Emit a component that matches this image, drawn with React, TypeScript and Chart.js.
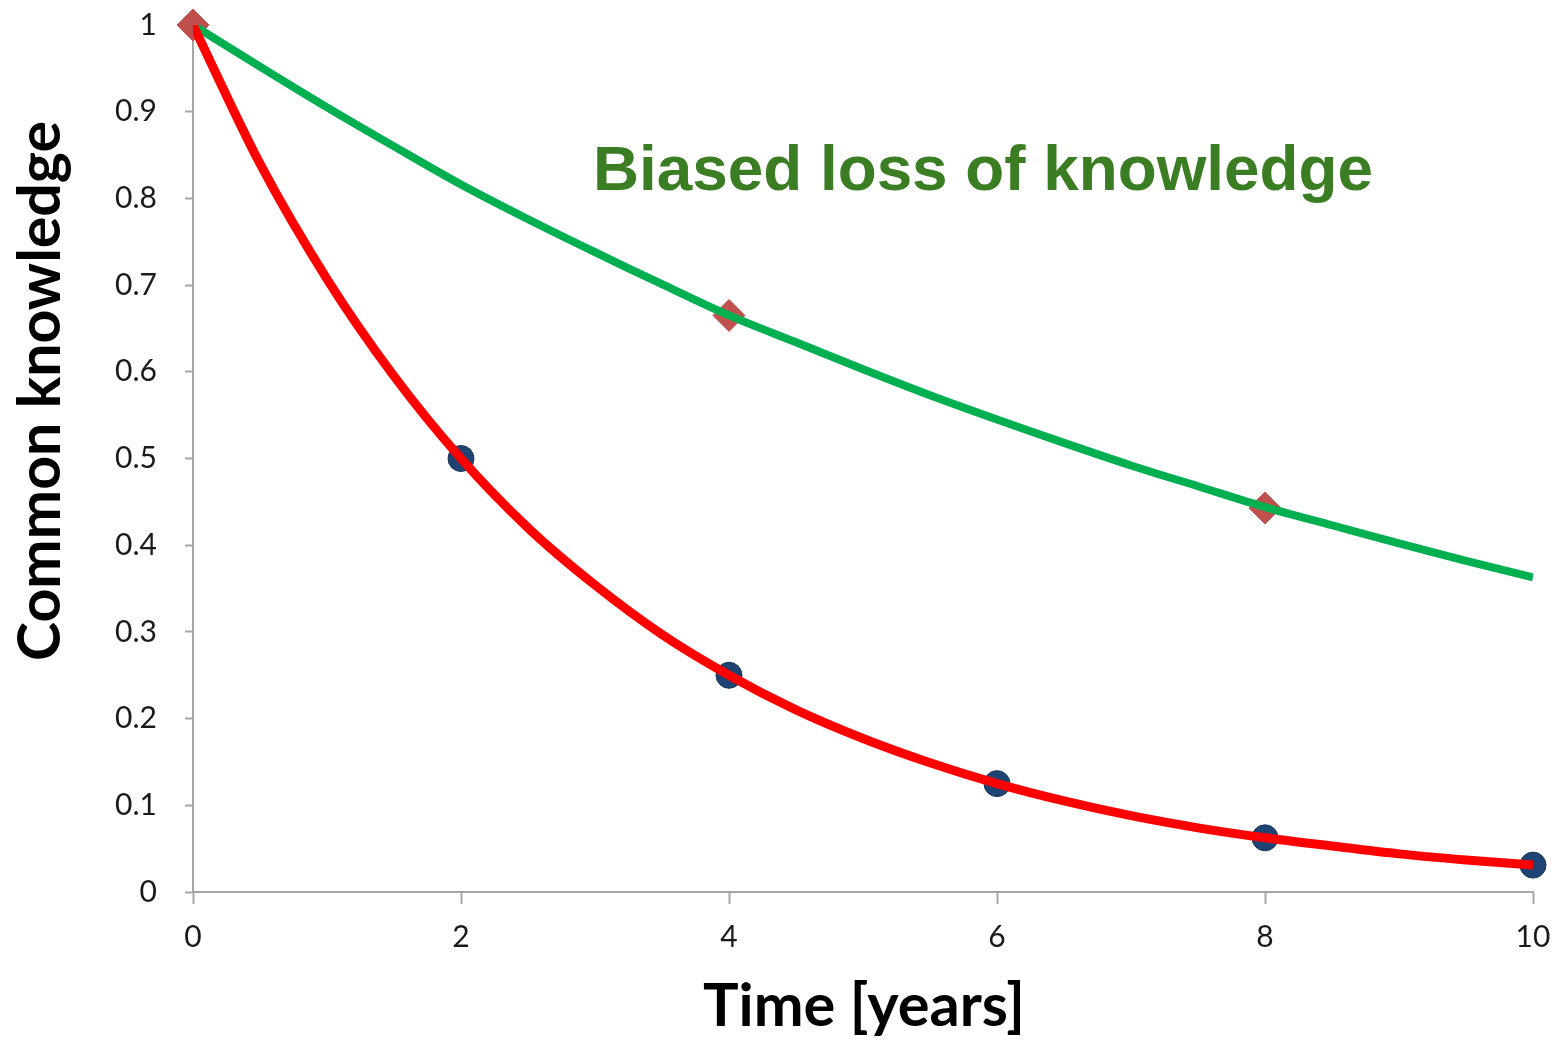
import React, { useEffect, useRef } from 'react';
import { Chart, registerables } from 'chart.js';

Chart.register(...registerables);

// ---- data ----
const timeYears = [0, 0.5, 1, 1.5, 2, 2.5, 3, 3.5, 4, 4.5, 5, 5.5, 6, 6.5, 7, 7.5, 8, 8.5, 9, 9.5, 10];
const redLine = [1, 0.84, 0.707, 0.595, 0.5, 0.42, 0.354, 0.297, 0.25, 0.21, 0.177, 0.149, 0.125, 0.105, 0.088, 0.074, 0.0625, 0.053, 0.044, 0.037, 0.031];
const greenLine = [1, 0.952, 0.905, 0.86, 0.816, 0.776, 0.738, 0.701, 0.665, 0.634, 0.603, 0.573, 0.545, 0.518, 0.492, 0.468, 0.444, 0.423, 0.402, 0.382, 0.363];
const circleX = [2, 4, 6, 8, 10];
const circleY = [0.5, 0.25, 0.125, 0.0625, 0.031];
const diamondX = [0, 4, 8];
const diamondY = [1, 0.665, 0.443];
const xTickValues = [0, 2, 4, 6, 8, 10];
const xTickLabels = ['0', '2', '4', '6', '8', '10'];
const yTickLabels = ['0', '0.1', '0.2', '0.3', '0.4', '0.5', '0.6', '0.7', '0.8', '0.9', '1'];
const xTitle = 'Time [years]';
const yTitle = 'Common knowledge';
const annotation = 'Biased loss of knowledge';

const pts = (xs: number[], ys: number[]) => xs.map((x, i) => ({ x, y: ys[i] }));

const fitSize = (ctx: CanvasRenderingContext2D, text: string, weight: string, family: string, width: number) => {
  ctx.font = `${weight} 100px ${family}`;
  const w = ctx.measureText(text).width;
  return (100 * width) / w;
};

const textPlugin = {
  id: 'texts',
  afterDraw(chart: any) {
    const ctx: CanvasRenderingContext2D = chart.ctx;
    ctx.save();
    // annotation
    let s = fitSize(ctx, annotation, 'bold', '"Liberation Sans", Arial, sans-serif', 780);
    ctx.font = `bold ${s}px "Liberation Sans", Arial, sans-serif`;
    ctx.fillStyle = '#3A7D22';
    ctx.textAlign = 'left';
    ctx.textBaseline = 'alphabetic';
    ctx.fillText(annotation, 593, 190);
    // x title
    s = fitSize(ctx, xTitle, 'bold', 'Lato, sans-serif', 322);
    ctx.font = `bold ${s}px Lato, sans-serif`;
    ctx.fillStyle = '#000';
    ctx.textAlign = 'center';
    ctx.fillText(xTitle, 864, 1026);
    // y title
    s = fitSize(ctx, yTitle, 'bold', 'Lato, sans-serif', 540);
    ctx.font = `bold ${s}px Lato, sans-serif`;
    ctx.translate(60, 391);
    ctx.rotate(-Math.PI / 2);
    ctx.textAlign = 'center';
    ctx.fillText(yTitle, 0, 0);
    ctx.restore();
  },
};

export default function App() {
  const ref = useRef<HTMLCanvasElement | null>(null);

  useEffect(() => {
    document.body.style.margin = '0';
    if (!ref.current) return;
    const axisColor = '#a6a6a6';
    const tickFont = { family: 'Lato, sans-serif', size: 30 };
    const chart = new Chart(ref.current, {
      type: 'scatter',
      data: {
        datasets: [
          {
            label: 'red',
            data: pts(timeYears, redLine),
            showLine: true,
            borderColor: '#FF0000',
            borderWidth: 9,
            pointRadius: 0,
            tension: 0.3,
            order: 0,
          },
          {
            label: 'green',
            data: pts(timeYears, greenLine),
            showLine: true,
            borderColor: '#00B050',
            borderWidth: 8,
            pointRadius: 0,
            tension: 0.3,
            order: 0,
          },
          {
            label: 'diamonds',
            data: pts(diamondX, diamondY),
            showLine: false,
            pointStyle: 'rectRot',
            pointRadius: 16,
            backgroundColor: '#C0504D',
            borderColor: '#C0504D',
            borderWidth: 1,
            clip: false,
            order: 1,
          },
          {
            label: 'circles',
            data: pts(circleX, circleY),
            showLine: false,
            pointStyle: 'circle',
            pointRadius: 13,
            backgroundColor: '#1F4372',
            borderColor: '#17375E',
            borderWidth: 1,
            clip: false,
            order: 2,
          },
        ] as any,
      },
      options: {
        animation: false,
        responsive: true,
        maintainAspectRatio: false,
        layout: { padding: { top: 25, right: 35, left: 0, bottom: 0 } },
        plugins: { legend: { display: false }, tooltip: { enabled: false } },
        scales: {
          x: {
            type: 'linear',
            min: 0,
            max: 10,
            afterFit: (s: any) => { s.height = 149; s.paddingLeft = 0; s.paddingRight = 0; },
            afterBuildTicks: (s: any) => { s.ticks = xTickValues.map((v) => ({ value: v })); },
            ticks: {
              callback: (v: any) => xTickLabels[xTickValues.indexOf(Number(v))] ?? '',
              font: tickFont,
              color: '#1a1a1a',
              padding: 15,
              maxRotation: 0,
            },
            grid: { drawOnChartArea: false, drawTicks: true, tickLength: 12, tickColor: axisColor, tickWidth: 2 },
            border: { color: axisColor, width: 2 },
          },
          y: {
            type: 'linear',
            min: 0,
            max: 1,
            afterFit: (s: any) => { s.width = 193; s.paddingTop = 0; s.paddingBottom = 0; },
            afterBuildTicks: (s: any) => { s.ticks = yTickLabels.map((_, i) => ({ value: i / 10 })); },
            ticks: {
              callback: (v: any) => yTickLabels[Math.round(Number(v) * 10)] ?? '',
              font: tickFont,
              color: '#1a1a1a',
              padding: 28,
            },
            grid: { drawOnChartArea: false, drawTicks: true, tickLength: 8, tickColor: axisColor, tickWidth: 2 },
            border: { color: axisColor, width: 2 },
          },
        },
      } as any,
      plugins: [textPlugin],
    });
    return () => chart.destroy();
  }, []);

  return (
    <div style={{ width: 1568, height: 1041, position: 'relative', background: '#fff' }}>
      <canvas ref={ref} />
    </div>
  );
}
